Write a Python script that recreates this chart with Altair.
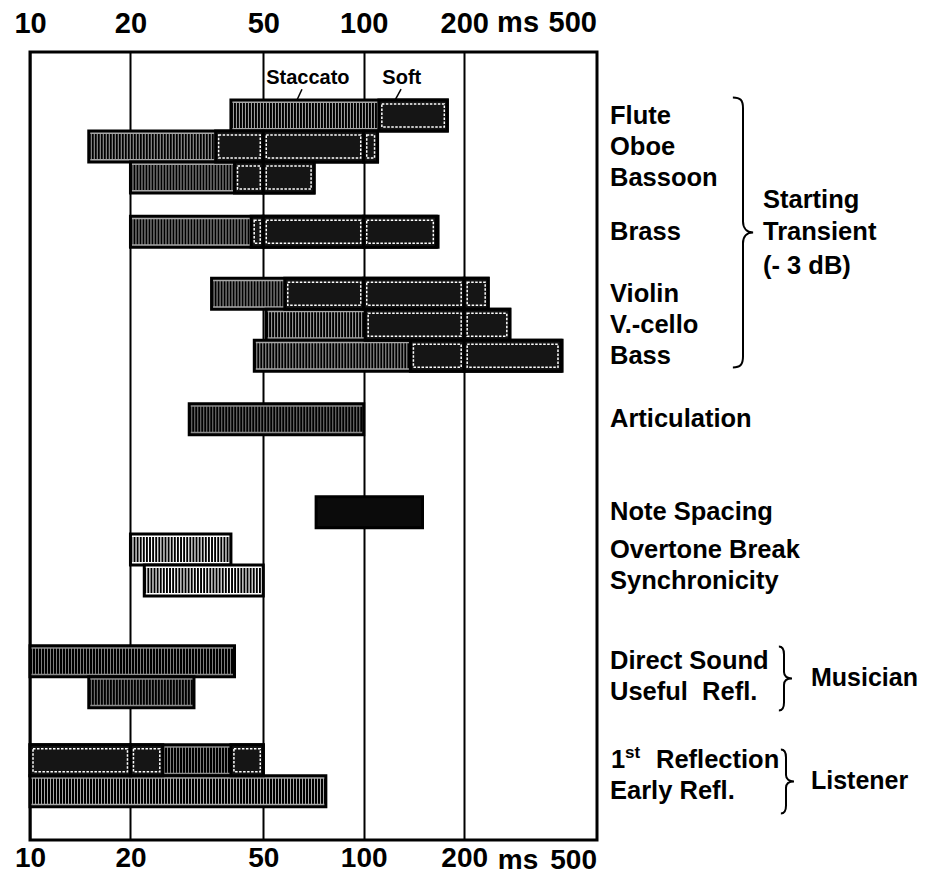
import altair as alt
import pandas as pd

FONT = "Liberation Sans"

# ---------------- data ----------------
rows = ["Flute", "Oboe", "Bassoon", "Brass", "Violin", "V.-cello", "Bass",
        "Articulation", "Note Spacing", "Overtone Break", "Synchronicity",
        "Direct Sound", "Useful\u00a0\u00a0Refl.", "1st Reflection", "Early Refl."]
row_slot = [0, 1, 2, 3.75, 5.75, 6.75, 7.75, 9.8, 12.8, 14, 15, 17.6, 18.6, 20.8, 21.8]
bar_start = [40, 15, 20, 20, 35, 51, 47, 30, 72, 20, 22, 10, 15, 10, 10]
bar_end = [178, 110, 71, 167, 236, 274, 393, 100, 150, 40, 50, 41, 31, 50, 77]
bar_kind = ["Staccato", "Staccato", "Staccato", "Staccato", "Staccato", "Staccato", "Staccato",
            "dark", "solid", "light", "light", "dark", "dark", "dark", "Staccato"]

soft_row = ["Flute", "Oboe", "Oboe", "Oboe", "Bassoon", "Bassoon", "Brass", "Brass", "Brass",
            "Violin", "Violin", "Violin", "V.-cello", "V.-cello", "Bass", "Bass",
            "1st Reflection", "1st Reflection", "1st Reflection"]
soft_start = [111, 36, 50, 100, 41, 50, 46, 50, 100, 58, 100, 200, 101, 200, 138, 200, 10, 20, 40]
soft_end = [178, 50, 100, 110, 50, 71, 50, 100, 165, 100, 200, 236, 200, 274, 200, 390, 20, 25, 50]

tick_values = [10, 20, 50, 100, 200]

transient_lines = ["Starting", "Transient", "(- 3 dB)"]
transient_slot = [2.74, 3.77, 4.84]
side_groups = ["Musician", "Listener"]
side_slot = [18.16, 21.48]

# ---------------- tables ----------------
slot_of = dict(zip(rows, row_slot))
bars = pd.DataFrame({"name": rows, "slot": row_slot, "start": bar_start,
                     "end": bar_end, "kind": bar_kind})
bars["top"] = bars["slot"] - 0.5
bars["bot"] = bars["slot"] + 0.5
bars["label"] = [("" if r == "1st Reflection" else r) for r in rows]
soft = pd.DataFrame({"name": soft_row, "start": soft_start, "end": soft_end})
soft["slot"] = [slot_of[r] for r in soft_row]
soft["top"] = soft["slot"] - 0.5
soft["bot"] = soft["slot"] + 0.5
trans = pd.DataFrame({"text": transient_lines, "slot": transient_slot})
sides = pd.DataFrame({"text": side_groups, "slot": side_slot})
one_row = pd.DataFrame({"k": [0]})

W, H = 567, 788
xs = alt.Scale(type="log", domain=[10, 500], nice=False)
ys = alt.Scale(domain=[-2.05, 23.37], reverse=True, nice=False, zero=False)

common_axis = dict(values=tick_values, ticks=False, domain=False, title=None,
                   labelFont=FONT, labelFontWeight="bold",
                   labelColor="black", labelOverlap=False, labelFlush=False,
                   labelExpr="datum.value")
top_axis = alt.Axis(orient="top", grid=True, gridColor="black", gridWidth=2,
                    labelPadding=14, labelFontSize=29, **common_axis)
bottom_axis = alt.Axis(orient="bottom", grid=False, labelPadding=4, labelFontSize=28,
                       **common_axis)

fill_scale = alt.Scale(domain=["Staccato", "dark", "light", "solid"],
                       range=["#a8a8a8", "#8c8c8c", "#ffffff", "#0b0b0b"])

base = alt.Chart(bars).mark_rect(stroke="black", strokeWidth=3).encode(
    x=alt.X("start:Q", scale=xs, axis=top_axis),
    x2="end:Q",
    y=alt.Y("top:Q", scale=ys, axis=None),
    y2="bot:Q",
    fill=alt.Fill("kind:N", scale=fill_scale, legend=None),
)

def stripe_layer(kind, dash):
    return alt.Chart(bars).transform_filter(f"datum.kind == '{kind}'").mark_rule(
        strokeWidth=25, color="black", strokeCap="butt", strokeDash=dash
    ).encode(
        x=alt.X("start:Q", scale=xs, axis=None),
        x2="end:Q",
        y=alt.Y("slot:Q", scale=ys, axis=None),
    )

stripes_a = stripe_layer("Staccato", [2.0, 1.0])
stripes_b = stripe_layer("dark", [2.1, 0.9])
stripes_c = stripe_layer("light", [1.9, 1.2])

soft_fill = alt.Chart(soft).mark_rect(fill="#151515", stroke="black", strokeWidth=3).encode(
    x=alt.X("start:Q", scale=xs, axis=bottom_axis),
    x2="end:Q",
    y=alt.Y("top:Q", scale=ys, axis=None),
    y2="bot:Q",
)

soft_outline = alt.Chart(soft).mark_rect(
    filled=False, color="white", strokeWidth=1.5, strokeDash=[2.5, 1.5],
    xOffset=3, x2Offset=-3, yOffset=4, y2Offset=-4
).encode(
    x=alt.X("start:Q", scale=xs, axis=None),
    x2="end:Q",
    y=alt.Y("top:Q", scale=ys, axis=None),
    y2="bot:Q",
)

txt = dict(font=FONT, fontWeight="bold", color="black", baseline="middle")

row_labels = alt.Chart(bars).mark_text(align="left", fontSize=25.5, **txt).encode(
    x=alt.value(W + 13),
    y=alt.Y("slot:Q", scale=ys, axis=None),
    text="label:N",
)

first_slot = slot_of["1st Reflection"]

def piece(text, xpix, size, dy=0):
    return alt.Chart(one_row).transform_calculate(yy=str(first_slot)).mark_text(
        align="left", fontSize=size, text=text, dy=dy, **txt).encode(
        x=alt.value(xpix), y=alt.Y("yy:Q", scale=ys, axis=None))

one = piece("1", W + 14, 25.5)
st = piece("st", W + 28, 17, dy=-7)
refl = piece("Reflection", W + 59, 25.5)

trans_text = alt.Chart(trans).mark_text(align="left", fontSize=25.5, **txt).encode(
    x=alt.value(733),
    y=alt.Y("slot:Q", scale=ys, axis=None),
    text="text:N",
)
side_text = alt.Chart(sides).mark_text(align="left", fontSize=25, **txt).encode(
    x=alt.value(781),
    y=alt.Y("slot:Q", scale=ys, axis=None),
    text="text:N",
)

big_brace = ("M -0.075 -1 C -0.02 -1 0 -0.98 0 -0.92 L 0 -0.08 C 0 -0.03 0.03 0 0.075 0 "
             "C 0.03 0 0 0.03 0 0.08 L 0 0.92 C 0 0.98 -0.02 1 -0.075 1")
small_brace = ("M -0.16 -1 C -0.04 -1 0 -0.9 0 -0.75 L 0 -0.2 C 0 -0.07 0.1 0 0.25 0 "
               "C 0.1 0 0 0.07 0 0.2 L 0 0.75 C 0 0.9 -0.04 1 -0.16 1")

def brace(shape, size, xpix, yslot):
    return alt.Chart(one_row).transform_calculate(yy=str(yslot)).mark_point(
        shape=shape, size=size, filled=False, color="black", strokeWidth=2, opacity=1
    ).encode(x=alt.value(xpix), y=alt.Y("yy:Q", scale=ys, axis=None))

brace1 = brace(big_brace, 72900, W + 146, 3.77)
brace2 = brace(small_brace, 4096, W + 187, 18.16)
brace3 = brace(small_brace, 4096, W + 189, 21.48)

ann = pd.DataFrame({"text": ["Staccato", "Soft"], "x": [68, 130], "y": [-1.2, -1.2]})
ann_text = alt.Chart(ann).mark_text(align="center", fontSize=20, **txt).encode(
    x=alt.X("x:Q", scale=xs, axis=None),
    y=alt.Y("y:Q", scale=ys, axis=None),
    text="text:N",
)
ptr = pd.DataFrame({"x1": [65.3, 129.4], "x2": [63.1, 124.1], "y1": [-0.85, -0.85], "y2": [-0.5, -0.5]})
pointers = alt.Chart(ptr).mark_rule(color="black", strokeWidth=1.5).encode(
    x=alt.X("x1:Q", scale=xs, axis=None), x2="x2:Q",
    y=alt.Y("y1:Q", scale=ys, axis=None), y2="y2:Q")

extra = pd.DataFrame({"text": ["ms", "500"], "x": [290, 500]})

def extra_text(which, align, ypix, size):
    return alt.Chart(extra).transform_filter(f"datum.text == '{which}'").mark_text(
        fontSize=size, align=align, **txt).encode(
        x=alt.X("x:Q", scale=xs, axis=None), y=alt.value(ypix), text="text:N")

ms_top = extra_text("ms", "center", -29, 29)
f_top = extra_text("500", "right", -29, 29)
ms_bot = extra_text("ms", "center", H + 21, 28)
f_bot = extra_text("500", "right", H + 21, 28)

chart = alt.layer(
    base, stripes_a, stripes_b, stripes_c, soft_fill, soft_outline, row_labels,
    one, st, refl, trans_text, side_text, brace1, brace2, brace3,
    ann_text, pointers, ms_top, f_top, ms_bot, f_bot
).properties(
    width=W, height=H, autosize="none",
    padding={"left": 22, "top": 44, "right": 323, "bottom": 33},
    background="white",
).configure_view(stroke="black", strokeWidth=3)

chart.save("out.html", embed_options={"renderer": "svg", "actions": False})
